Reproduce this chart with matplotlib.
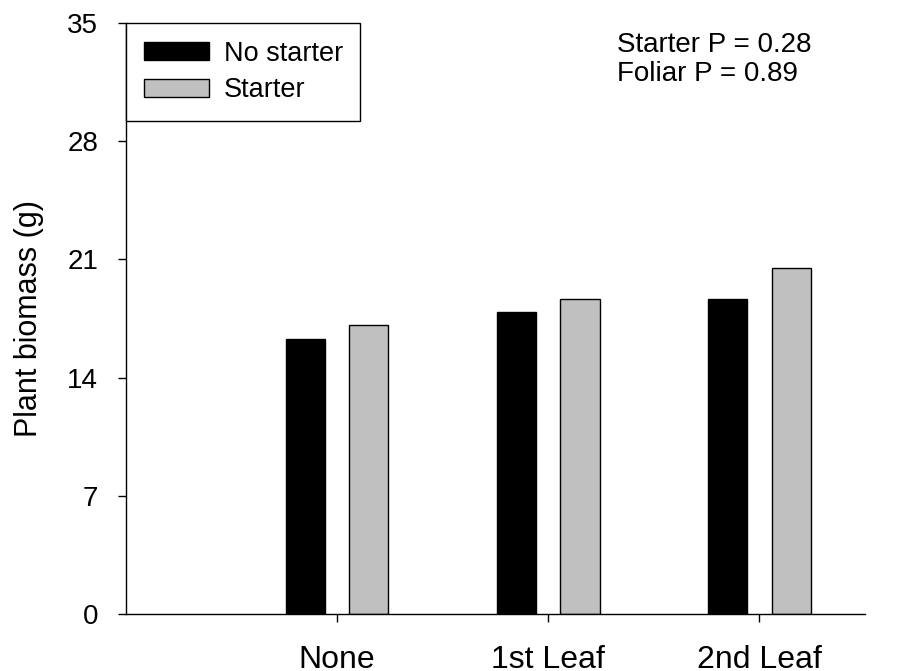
import numpy as np
import matplotlib
matplotlib.use('Agg')
import matplotlib.pyplot as plt

plt.rcParams['font.family'] = ['Liberation Sans', 'DejaVu Sans']

# data
groups = ['None', '1st Leaf', '2nd Leaf']
no_starter = [16.3, 17.9, 18.65]
starter = [17.1, 18.65, 20.5]
y_ticks = [0, 7, 14, 21, 28, 35]

fig = plt.figure(figsize=(9.02, 6.71), dpi=100)
ax = fig.add_axes([0.1397, 0.0849, 0.8193, 0.8808])

x = np.arange(len(groups))
w = 0.185
off = 0.15
ax.bar(x - off, no_starter, w, color='black', edgecolor='black', linewidth=1, label='No starter')
ax.bar(x + off, starter, w, color='#c0c0c0', edgecolor='black', linewidth=1, label='Starter')

ax.set_xlim(-1, 2.5)
ax.set_ylim(0, 35)
ax.set_yticks(y_ticks)
ax.set_xticks(x)
ax.set_xticklabels(groups)

for s in ['top', 'right']:
    ax.spines[s].set_visible(False)
for s in ['left', 'bottom']:
    ax.spines[s].set_linewidth(1)

ax.tick_params(axis='y', direction='out', length=6, width=1, labelsize=20, pad=14)
ax.tick_params(axis='x', direction='out', length=6, width=1, labelsize=23, pad=16)
ax.set_ylabel('Plant biomass (g)', fontsize=22, labelpad=17)

leg = ax.legend(loc='upper left', bbox_to_anchor=(0, 1), borderaxespad=0, fontsize=19.5,
                fancybox=False, edgecolor='black', framealpha=1,
                handlelength=2.4, handleheight=0.6, handletextpad=0.55,
                borderpad=0.65, labelspacing=0.4)
leg.get_frame().set_linewidth(1)

ax.text(0.664, 0.985, 'Starter P = 0.28\nFoliar P = 0.89', transform=ax.transAxes,
        fontsize=20, va='top', ha='left', linespacing=1.15)

fig.savefig('out.png', dpi=100)
